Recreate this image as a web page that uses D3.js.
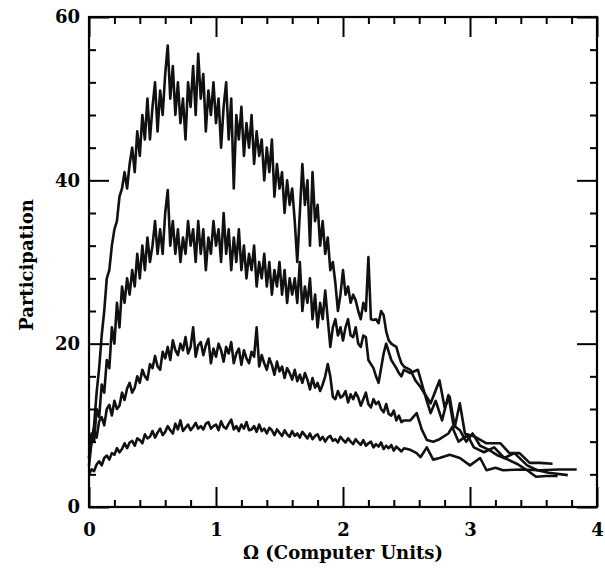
<!DOCTYPE html>
<html>
<head>
<meta charset="UTF-8">
<script src="https://d3js.org/d3.v7.min.js"></script>
<style>
  body { margin: 0; background: #fff; }
  .tick text { font-family: "DejaVu Serif", serif; font-weight: bold; font-size: 18px; fill: #000; }
  .tick line { stroke: #000; stroke-width: 2; }
  .label { font-family: "DejaVu Serif", serif; font-weight: bold; font-size: 18px; fill: #000; }
  .curve { fill: none; stroke: #111; stroke-width: 2.6; stroke-linejoin: round; }
</style>
</head>
<body>
<svg id="chart" width="605" height="569"></svg>
<script>
// dense part of each curve is sampled every 0.02 in omega, from 0 to 2.48
const omegaStep = 0.02;

const curveA = [5, 8, 10, 14, 17, 21, 24, 28, 29, 32, 34, 35, 38, 39, 41, 39, 42, 44, 41, 46,
  43, 48, 45, 50, 45, 49, 52, 46, 51, 48, 53, 56.5, 50, 54, 48, 52, 47, 50, 45, 52,
  49, 54, 48, 55.5, 50, 53, 46, 51, 48, 52, 47, 50, 44, 49, 52, 45, 50, 39, 48, 45,
  49, 43, 47, 44, 48, 42, 46, 43, 45, 40, 44, 41, 45, 38, 42, 39, 41, 36, 40, 37,
  39, 35, 30, 36, 42, 37, 40, 32, 41, 35, 37, 32, 35, 31, 33, 29, 30, 27.4, 24, 26,
  29, 26, 27, 25, 26, 25.3, 24, 23, 25, 24, 30.6, 23, 22.9, 23, 22.5, 24, 23.5, 21.5, 20.4, 20,
  19.8, 19.6, 18.5, 17.6, 17.2];
const curveB = [6, 9, 8, 12, 11, 15, 14, 18, 17, 22, 20, 25, 22, 27, 25, 28, 26, 29, 27, 31,
  28, 32, 29, 33, 30, 32, 35, 31, 34, 31, 36, 38.8, 32, 35, 31, 34, 30, 33, 31, 35,
  32, 34, 30, 35, 31, 34, 29, 33, 31, 35, 32, 34, 30, 36, 31, 34, 29, 33, 30, 34,
  29, 32, 28, 31, 29, 32, 27, 30, 28, 31, 27, 30, 26, 29, 27, 30, 26, 29, 25, 28,
  26, 28, 25, 30, 24, 27, 25, 28, 23, 26, 22, 25, 23, 26.5, 23, 19.6, 22, 23, 21, 22,
  20.4, 22, 23, 21, 20.8, 22, 20, 19.6, 21, 20.8, 18, 17.5, 17, 16, 15.2, 17, 18.8, 20, 19, 18,
  17.5, 17, 16.4, 16, 16.8];
const curveC = [6, 8, 9.5, 8.5, 10.5, 11, 10, 12, 12.5, 11.2, 13, 12, 12.4, 14, 13.1, 14.5, 15.2, 14, 14.6, 16,
  15.2, 16.8, 16, 15.6, 17.5, 17, 18.5, 17.2, 16.8, 19, 18.2, 19.6, 18, 20.4, 19.2, 18.6, 20, 19.2, 20.8, 18.8,
  19.6, 22, 18.4, 19.8, 20.2, 18.6, 19.8, 20.6, 17.6, 19.4, 18.4, 20, 19.2, 17.8, 19.6, 18.8, 20.2, 17.6, 18.8, 19.4,
  17.4, 19.2, 18.2, 17.6, 19, 18.4, 22, 17.2, 18.6, 17.6, 16.8, 18.2, 17.4, 16.2, 17.8, 16.6, 17.2, 15.8, 17, 16.4,
  15.6, 16.8, 15.4, 16.2, 15.2, 16.4, 15.6, 14.4, 15.8, 14.6, 15.2, 14.2, 15, 16, 17.5, 16, 13.5, 13.2, 14.2, 13.4,
  13.6, 14.2, 12.8, 13.8, 13.2, 14, 13.4, 12.4, 13.2, 14, 12.6, 12.2, 13.2, 12.6, 12.9, 12, 11.6, 12.6, 11.4, 11.2,
  11.8, 10.6, 11.2, 10.4, 10.6];
const curveD = [4, 4.6, 4.4, 5.2, 5.6, 5.1, 6, 6.3, 5.8, 6.6, 6.4, 7.2, 6.7, 7.1, 7.8, 7.2, 7.9, 8.1, 7.5, 8.4,
  8.2, 7.8, 8.9, 8.4, 8.6, 9.3, 8.5, 9.1, 9.6, 8.8, 9.2, 9.9, 9.4, 9.0, 10.2, 9.5, 10.6, 9.3, 9.7, 10.1,
  9.4, 9.8, 10.3, 9.6, 9.9, 9.5, 10.2, 10.4, 9.6, 9.9, 10.1, 9.4, 10.5, 9.8, 9.6, 10.2, 10.7, 9.5, 9.9, 9.3,
  10.1, 9.6, 10.4, 9.4, 9.5, 9.9, 9.2, 10.1, 9.3, 9.6, 9.0, 9.7, 9.4, 8.8, 9.5, 9.1, 8.7, 9.4, 8.9, 8.6,
  9.3, 8.7, 9.0, 8.5, 9.2, 8.8, 8.4, 9.0, 8.3, 8.7, 8.9, 8.2, 8.6, 8.0, 8.5, 8.7, 8.1, 8.3, 7.9, 8.6,
  8.2, 7.9, 8.4, 8.0, 7.7, 8.3, 7.9, 7.6, 8.2, 7.5, 7.8, 8.0, 7.3, 7.7, 7.4, 7.9, 7.1, 7.5, 7.2, 7.6,
  6.9, 7.4, 7.1, 6.8, 7.2];

// high-omega tails, sampled more coarsely
const tailOmegaA = [2.53, 2.57, 2.61, 2.69, 2.76, 2.8, 2.84, 2.88, 2.92, 2.96, 3.0, 3.04, 3.13, 3.24, 3.31, 3.39, 3.47, 3.55, 3.65];
const tailA = [16.8, 15.5, 14.7, 12.7, 15.5, 12.2, 13.5, 9.8, 12.7, 9, 8.8, 8.6, 7.8, 7.8, 6.6, 6.6, 5.4, 5.4, 5.3];
const tailOmegaB = [2.53, 2.59, 2.65, 2.69, 2.73, 2.78, 2.83, 2.87, 2.92, 2.97, 3.02, 3.08, 3.15, 3.22, 3.3, 3.38, 3.45, 3.52, 3.6, 3.69];
const tailB = [16.4, 16.8, 13.5, 11.5, 13, 10.6, 13.7, 10, 9.4, 8, 9, 7.5, 7, 6.3, 5.8, 5.2, 4.5, 3.7, 3.8, 3.8];
const tailOmegaC = [2.53, 2.58, 2.62, 2.66, 2.71, 2.76, 2.83, 2.86, 2.91, 2.98, 3.03, 3.11, 3.19, 3.27, 3.35, 3.45, 3.53, 3.62, 3.77];
const tailC = [10.6, 11.5, 9.5, 8.2, 8, 8.3, 9, 9.8, 8, 8.8, 7.3, 6.7, 7.3, 6, 6.6, 5.1, 4.5, 4.2, 3.9];
const tailOmegaD = [2.53, 2.58, 2.61, 2.66, 2.71, 2.76, 2.84, 2.92, 3.0, 3.08, 3.13, 3.2, 3.26, 3.4, 3.55, 3.7, 3.84];
const tailD = [7, 6.6, 6.1, 7.3, 5.8, 6, 6.4, 6, 5.1, 6, 4.5, 4.8, 4.5, 4.6, 4.5, 4.6, 4.6];

const xMajor = [0, 1, 2, 3, 4];
const yMajor = [0, 20, 40, 60];

const svg = d3.select("#chart");
const x = d3.scaleLinear().domain([0, 4]).range([89, 597]);
const y = d3.scaleLinear().domain([0, 60]).range([507, 17]);

const xMinor = d3.range(0, 4.001, 0.2).filter(v => Math.abs(v - Math.round(v)) > 1e-6);
const yMinor = d3.range(0, 60.001, 4).filter(v => v % 20 !== 0);

function build(dense, tailX, tailY) {
  const pts = dense.map((v, i) => [i * omegaStep, v]);
  tailX.forEach((o, i) => pts.push([o, tailY[i]]));
  return pts;
}

const curves = [
  build(curveA, tailOmegaA, tailA),
  build(curveB, tailOmegaB, tailB),
  build(curveC, tailOmegaC, tailC),
  build(curveD, tailOmegaD, tailD)
];

const line = d3.line().x(d => x(d[0])).y(d => y(d[1]));
svg.selectAll("path.curve")
  .data(curves)
  .join("path")
  .attr("class", "curve")
  .attr("d", line);

// axes, ticks pointing inward on all four sides
function addAxis(axis, tr, cls) {
  const g = svg.append("g").attr("class", cls).attr("transform", tr).call(axis);
  g.select(".domain").remove();
  return g;
}
addAxis(d3.axisBottom(x).tickValues(xMajor).tickSize(-20).tickPadding(16).tickFormat(d3.format("d")), "translate(0,507)", "x-major");
addAxis(d3.axisBottom(x).tickValues(xMinor).tickSize(-7).tickFormat(""), "translate(0,507)", "x-minor");
addAxis(d3.axisTop(x).tickValues(xMajor).tickSize(-20).tickFormat(""), "translate(0,17)", "x-top");
addAxis(d3.axisTop(x).tickValues(xMinor).tickSize(-7).tickFormat(""), "translate(0,17)", "x-top-minor");
addAxis(d3.axisLeft(y).tickValues(yMajor).tickSize(-20).tickPadding(9).tickFormat(d3.format("d")), "translate(89,0)", "y-major");
addAxis(d3.axisLeft(y).tickValues(yMinor).tickSize(-7).tickFormat(""), "translate(89,0)", "y-minor");
addAxis(d3.axisRight(y).tickValues(yMajor).tickSize(-20).tickFormat(""), "translate(597,0)", "y-right");
addAxis(d3.axisRight(y).tickValues(yMinor).tickSize(-7).tickFormat(""), "translate(597,0)", "y-right-minor");

svg.append("rect")
  .attr("x", 89).attr("y", 17)
  .attr("width", 508).attr("height", 490)
  .attr("fill", "none").attr("stroke", "#000").attr("stroke-width", 2.2);

svg.append("text")
  .attr("class", "label")
  .attr("x", 343).attr("y", 559)
  .attr("text-anchor", "middle")
  .text("Ω (Computer Units)");

svg.append("text")
  .attr("class", "label")
  .attr("transform", "translate(33,265) rotate(-90)")
  .attr("text-anchor", "middle")
  .text("Participation");
</script>
</body>
</html>
